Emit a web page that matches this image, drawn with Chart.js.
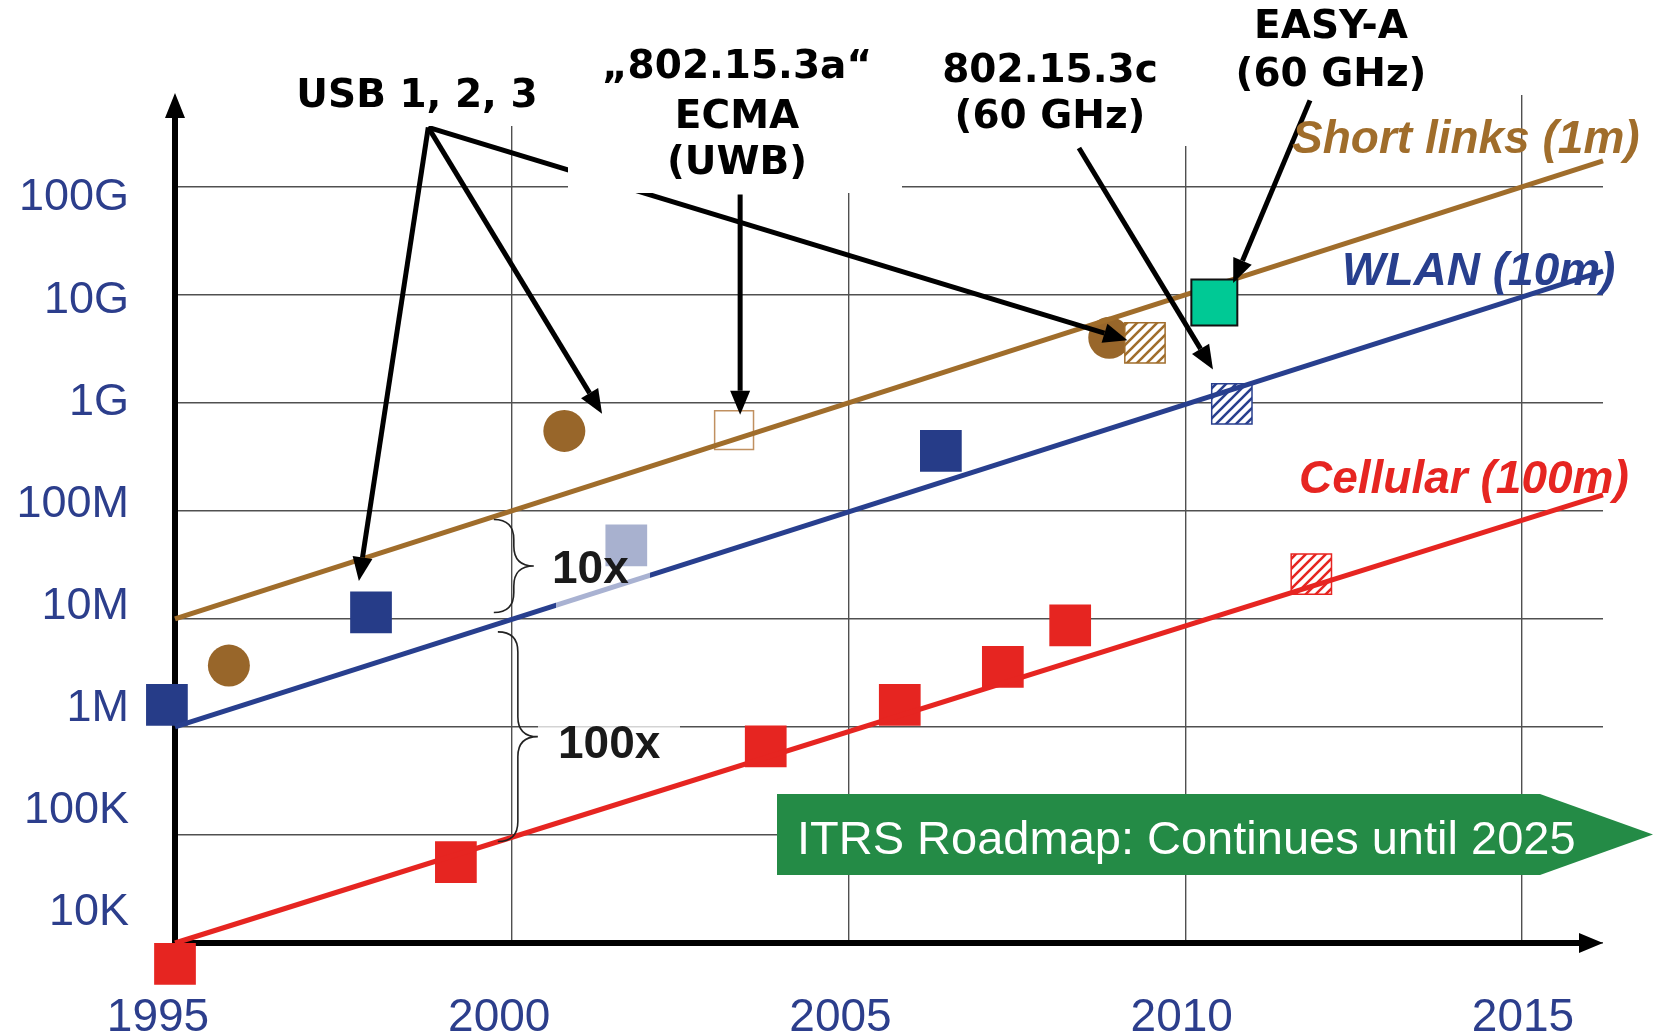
<!DOCTYPE html>
<html>
<head>
<meta charset="utf-8">
<title>Data rate roadmap</title>
<script src="https://cdn.jsdelivr.net/npm/chart.js@4.4.1/dist/chart.umd.min.js"></script>
<style>
  html, body { margin: 0; padding: 0; background: #fff; }
  #wrap { width: 1656px; height: 1036px; position: relative; }
</style>
</head>
<body>
<div id="wrap"><canvas id="rateChart"></canvas></div>
<script>
// x = year, y = data rate (bit/s, log scale)
const xTicks = [1995, 2000, 2005, 2010, 2015];
const yTicks = [1e4, 1e5, 1e6, 1e7, 1e8, 1e9, 1e10, 1e11];
const yTickLabels = ['10K', '100K', '1M', '10M', '100M', '1G', '10G', '100G'];

// trend lines: start / end
const trendYears = [1995, 2016.2];
const shortLinksTrend = [1e7, 1.74e11];
const wlanTrend = [1e6, 1.66e10];
const cellularTrend = [1e4, 1.41e8];

// Short links (1m)
const shortYears = [1995.8, 2000.78, 2008.87];
const shortRates = [3.7e6, 5.5e8, 4.0e9];
const uwbYears = [2003.3];          // „802.15.3a“ ECMA (UWB)
const uwbRates = [5.6e8];
const shortPlannedYears = [2009.4];
const shortPlannedRates = [3.6e9];
const easyAYears = [2010.43];
const easyARates = [8.5e9];

// WLAN (10m)
const wlanYears = [1994.88, 1997.91, 2006.37];
const wlanRates = [1.6e6, 1.15e7, 3.6e8];
const wlanFadedYears = [2001.7];
const wlanFadedRates = [4.8e7];
const wlanPlannedYears = [2010.69];   // 802.15.3c (60 GHz)
const wlanPlannedRates = [9.8e8];

// Cellular (100m)
const cellYears = [1995.0, 1999.17, 2003.77, 2005.76, 2007.29, 2008.29];
const cellRates = [6.4e3, 5.6e4, 6.6e5, 1.6e6, 3.6e6, 8.7e6];
const cellPlannedYears = [2011.87];
const cellPlannedRates = [2.6e7];

// pointer arrows: [fromYear, fromLog10, toYear, toLog10]
const arrows = [
    [1998.76, 11.55, 1997.73, 7.35],
    [1998.76, 11.55, 2001.34, 8.90],
    [1998.76, 11.55, 2009.14, 9.58],
    [2003.39, 10.93, 2003.39, 8.89],
    [2008.42, 11.36, 2010.41, 9.31],
    [2011.85, 11.80, 2010.71, 10.11]
];
// braces: [year, topLog10, bottomLog10]
const braces = [
    [2000.03, 7.92, 7.06],
    [2000.09, 6.88, 4.94]
];

const BROWN = '#a06d2b';
const BROWN_DOT = '#98662a';
const BLUE = '#283f8e';
const BLUE_SQ = '#263c88';
const RED = '#e62521';
const TEAL = '#00c995';
const LABEL = '#2c3e8c';

const canvas = document.getElementById('rateChart');
const pts = (xs, ys) => xs.map((x, i) => ({ x: x, y: ys[i] }));

function hatch(color) {
    const c = document.createElement('canvas');
    c.width = 10; c.height = 10;
    const g = c.getContext('2d');
    g.fillStyle = '#fff';
    g.fillRect(0, 0, 10, 10);
    g.strokeStyle = color;
    g.lineWidth = 2.6;
    g.beginPath();
    g.moveTo(-2, 12); g.lineTo(12, -2);
    g.moveTo(-7, 7); g.lineTo(7, -7);
    g.moveTo(3, 17); g.lineTo(17, 3);
    g.stroke();
    return canvas.getContext('2d').createPattern(c, 'repeat');
}

function drawArrow(ctx, p1, p2) {
    const ang = Math.atan2(p2[1] - p1[1], p2[0] - p1[0]);
    const len = 24, half = 10;
    const bx = p2[0] - len * Math.cos(ang), by = p2[1] - len * Math.sin(ang);
    ctx.strokeStyle = '#000';
    ctx.fillStyle = '#000';
    ctx.lineWidth = 5;
    ctx.beginPath();
    ctx.moveTo(p1[0], p1[1]);
    ctx.lineTo(bx, by);
    ctx.stroke();
    ctx.beginPath();
    ctx.moveTo(p2[0], p2[1]);
    ctx.lineTo(bx + half * Math.sin(ang), by - half * Math.cos(ang));
    ctx.lineTo(bx - half * Math.sin(ang), by + half * Math.cos(ang));
    ctx.closePath();
    ctx.fill();
}

function drawBrace(ctx, x, y1, y2, w) {
    const ym = (y1 + y2) / 2;
    ctx.beginPath();
    ctx.moveTo(x - w, y1);
    ctx.quadraticCurveTo(x, y1, x, y1 + w);
    ctx.lineTo(x, ym - w);
    ctx.quadraticCurveTo(x, ym, x + w, ym);
    ctx.quadraticCurveTo(x, ym, x, ym + w);
    ctx.lineTo(x, y2 - w);
    ctx.quadraticCurveTo(x, y2, x - w, y2);
    ctx.stroke();
}

const decorPlugin = {
    id: 'decor',
    beforeDatasetsDraw(chart) {
        const ctx = chart.ctx, a = chart.chartArea;
        ctx.save();
        ctx.strokeStyle = '#000';
        ctx.fillStyle = '#000';
        ctx.lineWidth = 6;
        ctx.beginPath();
        ctx.moveTo(a.left, a.bottom + 3); ctx.lineTo(a.left, a.top + 20);
        ctx.moveTo(a.left - 3, a.bottom); ctx.lineTo(a.right - 20, a.bottom);
        ctx.stroke();
        ctx.beginPath();
        ctx.moveTo(a.left, a.top - 2); ctx.lineTo(a.left - 10, a.top + 23); ctx.lineTo(a.left + 10, a.top + 23); ctx.closePath();
        ctx.moveTo(a.right, a.bottom); ctx.lineTo(a.right - 24, a.bottom - 10); ctx.lineTo(a.right - 24, a.bottom + 10); ctx.closePath();
        ctx.fill();
        ctx.restore();
    },
    afterDatasetsDraw(chart) {
        const ctx = chart.ctx;
        const sx = chart.scales.x, sy = chart.scales.y;
        const at = (yr, lg) => [sx.getPixelForValue(yr), sy.getPixelForValue(Math.pow(10, lg))];
        ctx.save();

        arrows.forEach(r => drawArrow(ctx, at(r[0], r[1]), at(r[2], r[3])));

        // white boxes behind the headings
        ctx.fillStyle = '#fff';
        ctx.fillRect(285, 0, 270, 126);
        ctx.fillRect(568, 0, 334, 193);
        ctx.fillRect(915, 0, 277, 146);

        // translucent boxes behind 10x / 100x
        ctx.fillStyle = 'rgba(255,255,255,0.6)';
        ctx.fillRect(556, 518, 94, 94);
        ctx.fillStyle = 'rgba(255,255,255,0.75)';
        ctx.fillRect(538, 712, 142, 60);

        ctx.strokeStyle = '#222';
        ctx.lineWidth = 1.6;
        braces.forEach(b => {
            const top = at(b[0], b[1]), bot = at(b[0], b[2]);
            drawBrace(ctx, top[0], top[1], bot[1], 20);
        });

        ctx.fillStyle = '#1a1a1a';
        ctx.textAlign = 'left';
        ctx.textBaseline = 'alphabetic';
        ctx.font = 'bold 46px "Liberation Sans"';
        ctx.fillText('10x', 552, 583);
        ctx.fillText('100x', 558, 758);

        ctx.fillStyle = '#000';
        ctx.textAlign = 'center';
        ctx.font = 'bold 39px "DejaVu Sans"';
        [['USB 1, 2, 3', 417, 107], ['„802.15.3a“', 737, 78], ['ECMA', 737, 128], ['(UWB)', 737, 174],
         ['802.15.3c', 1050, 82], ['(60 GHz)', 1050, 128], ['EASY-A', 1331, 38], ['(60 GHz)', 1331, 86]]
            .forEach(t => ctx.fillText(t[0], t[1], t[2]));

        ctx.textAlign = 'left';
        ctx.font = 'italic bold 46px "Liberation Sans"';
        [['Short links (1m)', 1292, 153, BROWN], ['WLAN (10m)', 1342, 285, BLUE], ['Cellular (100m)', 1299, 493, RED]]
            .forEach(t => { ctx.fillStyle = t[3]; ctx.fillText(t[0], t[1], t[2]); });

        // roadmap banner
        ctx.fillStyle = '#248b46';
        ctx.beginPath();
        ctx.moveTo(777, 794); ctx.lineTo(1540, 794); ctx.lineTo(1653, 834.5);
        ctx.lineTo(1540, 875); ctx.lineTo(777, 875); ctx.closePath();
        ctx.fill();
        ctx.fillStyle = '#fff';
        ctx.font = '47px "Liberation Sans"';
        ctx.fillText('ITRS Roadmap: Continues until 2025', 797, 854);

        ctx.restore();
    }
};

const gridStyle = { color: '#505050', lineWidth: 1.4, drawTicks: false };
const setTicks = list => s => { s.ticks = list.map(v => ({ value: v })); };

new Chart(canvas, {
    type: 'scatter',
    data: {
        datasets: [
            { label: 'EASY-A (60 GHz)', data: pts(easyAYears, easyARates), pointStyle: 'rect', pointRadius: 32.5,
              backgroundColor: TEAL, borderColor: '#111', borderWidth: 2, order: 0 },
            { label: 'Short links (1m)', data: pts(trendYears, shortLinksTrend), showLine: true, borderColor: BROWN,
              borderWidth: 5, pointRadius: 0, order: 1 },
            { label: 'WLAN (10m)', data: pts(trendYears, wlanTrend), showLine: true, borderColor: BLUE,
              borderWidth: 5, pointRadius: 0, order: 1 },
            { label: 'Cellular (100m)', data: pts(trendYears, cellularTrend), showLine: true, borderColor: RED,
              borderWidth: 5, pointRadius: 0, order: 1 },
            { label: 'Short links planned', data: pts(shortPlannedYears, shortPlannedRates), pointStyle: 'rect',
              pointRadius: 28.5, backgroundColor: hatch(BROWN), borderColor: BROWN, borderWidth: 1.5, order: 2 },
            { label: '802.15.3c', data: pts(wlanPlannedYears, wlanPlannedRates), pointStyle: 'rect',
              pointRadius: 28.5, backgroundColor: hatch(BLUE), borderColor: BLUE, borderWidth: 1.5, order: 2 },
            { label: 'Cellular planned', data: pts(cellPlannedYears, cellPlannedRates), pointStyle: 'rect',
              pointRadius: 28.5, backgroundColor: hatch(RED), borderColor: RED, borderWidth: 1.5, order: 2 },
            { label: 'ECMA (UWB)', data: pts(uwbYears, uwbRates), pointStyle: 'rect', pointRadius: 27.5,
              backgroundColor: '#fff', borderColor: '#c09060', borderWidth: 1.5, order: 2 },
            { label: 'Short links', data: pts(shortYears, shortRates), pointStyle: 'circle', pointRadius: 21,
              backgroundColor: BROWN_DOT, borderWidth: 0, order: 3 },
            { label: 'WLAN', data: pts(wlanYears, wlanRates), pointStyle: 'rect', pointRadius: 29.5,
              backgroundColor: BLUE_SQ, borderWidth: 0, order: 3 },
            { label: 'WLAN (faded)', data: pts(wlanFadedYears, wlanFadedRates), pointStyle: 'rect', pointRadius: 29.5,
              backgroundColor: BLUE_SQ, borderWidth: 0, order: 3 },
            { label: 'Cellular', data: pts(cellYears, cellRates), pointStyle: 'rect', pointRadius: 29.5,
              backgroundColor: RED, borderWidth: 0, order: 3 }
        ]
    },
    options: {
        responsive: true,
        maintainAspectRatio: false,
        animation: false,
        events: [],
        clip: false,
        layout: { padding: { top: 95, right: 53, bottom: 0, left: 0 } },
        plugins: { legend: { display: false }, tooltip: { enabled: false } },
        scales: {
            x: {
                type: 'linear', position: 'bottom', min: 1995, max: 2016.2, weight: 0,
                grid: gridStyle, border: { display: false },
                afterBuildTicks: setTicks(xTicks),
                afterFit: s => { s.height = 0; },
                ticks: { display: false }
            },
            // label axis: the printed year labels sit slightly off the grid lines
            xl: {
                type: 'linear', position: 'bottom', min: 1995.249, max: 2016.172, weight: 1,
                grid: { display: false }, border: { display: false },
                afterBuildTicks: setTicks(xTicks),
                afterFit: s => { s.height = 93; },
                ticks: {
                    color: LABEL, font: { size: 46, family: 'Liberation Sans' }, padding: 40,
                    maxRotation: 0, autoSkip: false, callback: v => String(v)
                }
            },
            y: {
                type: 'logarithmic', position: 'left', min: 1e4, max: Math.pow(10, 11.85), weight: 0,
                grid: gridStyle, border: { display: false },
                afterBuildTicks: setTicks(yTicks),
                afterFit: s => { s.width = 0; },
                ticks: { display: false }
            },
            yl: {
                type: 'logarithmic', position: 'left', min: Math.pow(10, 3.706), max: Math.pow(10, 12.008), weight: 1,
                grid: { display: false }, border: { display: false },
                afterBuildTicks: setTicks(yTicks),
                afterFit: s => { s.width = 175; },
                ticks: {
                    color: LABEL, font: { size: 45, family: 'Liberation Sans' }, padding: 38, autoSkip: false,
                    callback: v => yTickLabels[yTicks.indexOf(v)]
                }
            }
        }
    },
    plugins: [decorPlugin]
});
</script>
</body>
</html>
